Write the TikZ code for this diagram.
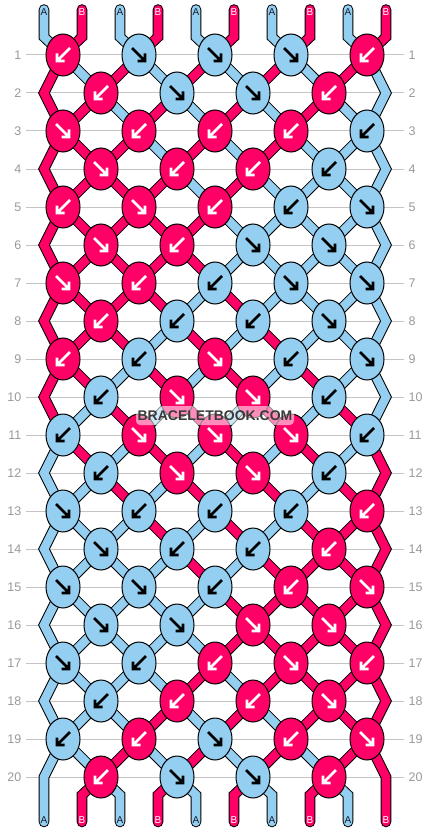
\documentclass[tikz,border=0pt]{standalone}
\usepackage{fontspec}
\setmainfont{Liberation Sans}
\usetikzlibrary{shapes.geometric}
\definecolor{cA}{HTML}{94CEF0}
\definecolor{cB}{HTML}{FF0066}
\definecolor{arA}{HTML}{000000}
\definecolor{arB}{HTML}{FFFFFF}
\definecolor{labA}{HTML}{1A1A2A}
\definecolor{labB}{HTML}{FFFFFF}
\definecolor{gridc}{HTML}{C4C4C4}
\definecolor{rowc}{HTML}{9A9A9A}
\definecolor{wmc}{HTML}{3A3A3A}

\newcommand\strgap[2]{%
  \foreach \kc [count=\q from 0] in {#2}{%
    \pgfmathtruncatemacro\rn{#1+1}%
    \ifnum\q>0 \ifnum\q<9
      \ifodd#1\relax
        \pgfmathtruncatemacro\ka{\q/2}%
        \pgfmathtruncatemacro\kb{(\q-1)/2}%
      \else
        \pgfmathtruncatemacro\ka{(\q-1)/2}%
        \pgfmathtruncatemacro\kb{\q/2}%
      \fi
      \draw[str, double=c\kc] (k-#1-\ka) -- (k-\rn-\kb);
    \fi\fi}}

\newcommand\knotrow[2]{%
  \foreach \kc/\kd [count=\ki from 0] in {#2}{%
    \node[knot, fill=c\kc] (kn-#1-\ki) at (k-#1-\ki) {};
    \draw[arr, color=ar\kc, shift={(k-#1-\ki)}, dir\kd] (-7,-7) -- (4.5,4.5) (6,-1.5) -- (6,6) -- (-1.5,6);}}

\begin{document}
\begin{tikzpicture}[x=1pt,y=-1pt,
  str/.style={draw=black, line width=1pt, double distance=8.6pt, line join=miter},
  knot/.style={ellipse, draw=black, line width=1pt, minimum width=34pt, minimum height=42pt, inner sep=0pt},
  arr/.style={line width=2.7pt, line join=miter, line cap=butt},
  dirR/.style={}, dirL/.style={xscale=-1},
  rowlab/.style={text=rowc, font=\fontsize{12.5}{14}\selectfont, inner sep=0pt},
  endlab/.style={font=\fontsize{10}{12}\selectfont, inner sep=0pt},
  wm/.style={font=\fontsize{14}{16}\selectfont\bfseries, inner sep=0pt}]
\fill[white] (0,0) rectangle (430,832);
\useasboundingbox (0,0) rectangle (430,832);

% knot and turning coordinates
\foreach \r in {1,3,...,19}{\foreach \i in {0,...,4}{\coordinate (k-\r-\i) at ({63+76*\i},{55+38*(\r-1)});}}
\foreach \r in {2,4,...,20}{\foreach \i in {0,...,3}{\coordinate (k-\r-\i) at ({101+76*\i},{55+38*(\r-1)});}
  \coordinate (L\r) at (44,{55+38*(\r-1)});
  \coordinate (R\r) at (386,{55+38*(\r-1)});}
\foreach \p in {0,...,9}{%
  \coordinate (t\p) at ({44+38*\p},9.5);
  \coordinate (tb\p) at ({44+38*\p},37);
  \coordinate (bb\p) at ({44+38*\p},795);
  \coordinate (be\p) at ({44+38*\p},822);}

% grid lines and row numbers
\foreach \r in {1,...,20}{%
  \coordinate (g\r) at (26,{55+38*(\r-1)});
  \coordinate (h\r) at (404,{55+38*(\r-1)});
  \draw[gridc, line width=1pt] (g\r) -- (h\r);
  \node[rowlab, anchor=east] (ll\r) at (21.5,{55+38*(\r-1)}) {\r};
  \node[rowlab, anchor=west] (rl\r) at (408.5,{55+38*(\r-1)}) {\r};}

% top strands
\foreach \p/\sc in {0/A,1/B,2/A,3/B,4/A,5/B,6/A,7/B,8/A,9/B}{%
  \pgfmathtruncatemacro\kk{\p/2}
  \draw[str, double=c\sc, line cap=round] (t\p) -- (tb\p) -- (k-1-\kk);}

% strands between rows
\strgap{1}{B,A,B,A,B,A,B,A,B,A}
\strgap{2}{B,B,A,B,A,B,A,B,A,A}
\strgap{3}{B,B,B,A,B,A,B,A,A,A}
\strgap{4}{B,B,B,B,A,B,A,A,A,A}
\strgap{5}{B,B,B,B,B,A,A,A,A,A}
\strgap{6}{B,B,B,B,B,A,A,A,A,A}
\strgap{7}{B,B,B,B,A,B,A,A,A,A}
\strgap{8}{B,B,B,A,B,A,B,A,A,A}
\strgap{9}{B,B,A,B,A,B,A,B,A,A}
\strgap{10}{B,A,B,A,B,A,B,A,B,A}
\strgap{11}{A,B,A,B,A,B,A,B,A,B}
\strgap{12}{A,A,B,A,B,A,B,A,B,B}
\strgap{13}{A,A,A,B,A,B,A,B,B,B}
\strgap{14}{A,A,A,A,B,A,B,B,B,B}
\strgap{15}{A,A,A,A,A,B,B,B,B,B}
\strgap{16}{A,A,A,A,A,B,B,B,B,B}
\strgap{17}{A,A,A,A,B,A,B,B,B,B}
\strgap{18}{A,A,A,B,A,B,A,B,B,B}
\strgap{19}{A,A,B,A,B,A,B,A,B,B}

% edge strands
\foreach \r/\eL/\eR in {2/B/A,4/B/A,6/B/A,8/B/A,10/B/A,12/A/B,14/A/B,16/A/B,18/A/B}{%
  \pgfmathtruncatemacro\ra{\r-1}
  \pgfmathtruncatemacro\rb{\r+1}
  \draw[str, double=c\eL] (k-\ra-0) -- (L\r) -- (k-\rb-0);
  \draw[str, double=c\eR] (k-\ra-4) -- (R\r) -- (k-\rb-4);}
\draw[str, double=cA, line cap=round] (k-19-0) -- (L20) -- (bb0) -- (be0);
\draw[str, double=cB, line cap=round] (k-19-4) -- (R20) -- (bb9) -- (be9);

% bottom strands
\foreach \p/\sc in {1/B,2/A,3/B,4/A,5/B,6/A,7/B,8/A}{%
  \pgfmathtruncatemacro\kk{(\p-1)/2}
  \draw[str, double=c\sc, line cap=round] (k-20-\kk) -- (bb\p) -- (be\p);}

% knots
\knotrow{1}{B/L,A/R,A/R,A/R,B/L}
\knotrow{2}{B/L,A/R,A/R,B/L}
\knotrow{3}{B/R,B/L,B/L,B/L,A/L}
\knotrow{4}{B/R,B/L,B/L,A/L}
\knotrow{5}{B/L,B/R,B/L,A/L,A/R}
\knotrow{6}{B/R,B/L,A/R,A/R}
\knotrow{7}{B/R,B/L,A/L,A/R,A/R}
\knotrow{8}{B/L,A/L,A/L,A/R}
\knotrow{9}{B/L,A/L,B/R,A/L,A/R}
\knotrow{10}{A/L,B/R,B/R,A/L}
\knotrow{11}{A/L,B/R,B/R,B/R,A/L}
\knotrow{12}{A/L,B/R,B/R,A/L}
\knotrow{13}{A/R,A/L,A/L,A/L,B/L}
\knotrow{14}{A/R,A/L,A/L,B/L}
\knotrow{15}{A/R,A/R,A/L,B/L,B/R}
\knotrow{16}{A/R,A/R,B/R,B/R}
\knotrow{17}{A/R,A/L,B/L,B/R,B/L}
\knotrow{18}{A/L,B/L,B/L,B/R}
\knotrow{19}{A/L,B/L,A/R,B/L,B/R}
\knotrow{20}{B/L,A/R,A/R,B/L}

% string end labels
\foreach \p/\sc in {0/A,1/B,2/A,3/B,4/A,5/B,6/A,7/B,8/A,9/B}{%
  \node[endlab, text=lab\sc] (ta\p) at ({44+38*\p},12.5) {\sc};
  \node[endlab, text=lab\sc] (ba\p) at ({44+38*\p},820) {\sc};}

% watermark with a soft light backing
\fill[white, opacity=0.55, rounded corners=4pt] (136,406) rectangle (294,425);
\node[wm, text=wmc] (wm) at (215,415.5) {BRACELETBOOK.COM};
\end{tikzpicture}
\end{document}
